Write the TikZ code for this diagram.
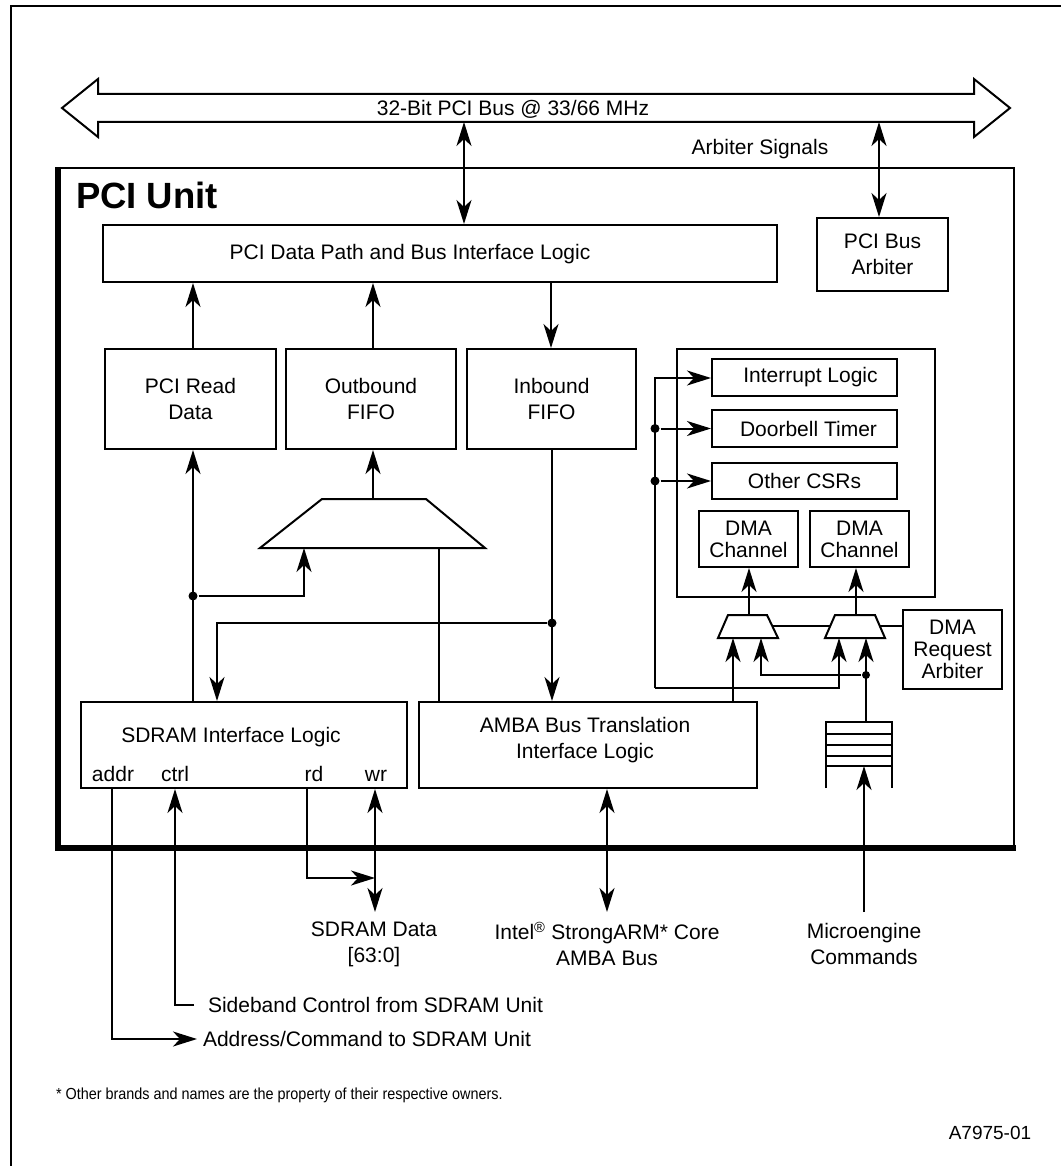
\documentclass[tikz,border=0pt]{standalone}
\usepackage{fontspec}
\setmainfont{Liberation Sans}
\newfontfamily\notefont[FakeStretch=0.9]{Liberation Sans}
\usetikzlibrary{arrows.meta}
\newcommand\lblfont{\fontsize{21}{26}\selectfont}
\newcommand\tightfont{\fontsize{21}{22}\selectfont}

\tikzset{ahead/.tip={Stealth[length=24pt,width=15pt,inset=7pt]}}

\begin{document}
\begin{tikzpicture}[x=1pt,y=-1pt,line width=2pt,line join=miter,
  box/.style={draw,line width=2pt,inner sep=0pt,align=center,font=\lblfont},
  tbox/.style={box,font=\tightfont},
  lbl/.style={inner sep=0pt,align=center,font=\lblfont},
  dot/.style={circle,fill,inner sep=0pt,minimum size=9pt},
  to/.style={-ahead},
  both/.style={ahead-ahead}]

\useasboundingbox (0,0) rectangle (1061,1166);

% page frame
\draw[line width=2.5pt] (11,1166) -- (11,6) -- (1061,6);

% PCI bus (wide double arrow)
\draw (62,108) -- (98,79) -- (98,94) -- (974,94) -- (974,79) -- (1010,108)
      -- (974,137) -- (974,122) -- (98,122) -- (98,137) -- cycle;
\node[lbl] (bustext) at (513,109) {32-Bit PCI Bus @ 33/66 MHz};
\coordinate (busdata) at (464,122);
\coordinate (busarb) at (879,122);
\node[lbl] (arbsig) at (760,149) {Arbiter Signals};

% PCI unit enclosure with heavy left/bottom edge
\node[draw,line width=2pt,minimum width=955pt,minimum height=679pt,inner sep=0pt]
  (unit) at (536.5,507.5) {};
\draw[line width=6pt] (unit.north west) -- (unit.south west) -- ([xshift=1pt]unit.south east);
\node[inner sep=0pt,anchor=west,font=\fontsize{36.5}{40}\selectfont\bfseries]
  (unitname) at (75,195) {PCI Unit};

% upper blocks
\node[box,minimum width=674pt,minimum height=57pt] (pdp) at (440,253.5) {};
\node[lbl] (pdptext) at (410,254) {PCI Data Path and Bus Interface Logic};
\node[box,minimum width=131pt,minimum height=73pt] (arb) at (882.5,254.5) {PCI Bus\\Arbiter};

\node[box,minimum width=171pt,minimum height=100pt] (prd) at (190.5,399) {PCI Read\\Data};
\node[box,minimum width=170pt,minimum height=100pt] (obf) at (371,399) {Outbound\\FIFO};
\node[box,minimum width=169pt,minimum height=100pt] (ibf) at (551.5,399) {Inbound\\FIFO};

% CSR / DMA group
\node[box,minimum width=258pt,minimum height=248pt] (grp) at (806,473) {};
\node[box,minimum width=185pt,minimum height=37pt] (intr) at (804.5,377.5) {\hspace*{12pt}Interrupt Logic};
\node[box,minimum width=185pt,minimum height=37pt] (door) at (804.5,428.5) {\hspace*{8pt}Doorbell Timer};
\node[box,minimum width=185pt,minimum height=36pt] (csr) at (804.5,481) {Other CSRs};
\node[tbox,minimum width=99pt,minimum height=56pt] (dma1) at (748.5,539) {DMA\\Channel};
\node[tbox,minimum width=99pt,minimum height=56pt] (dma2) at (859.5,539) {DMA\\Channel};
\node[tbox,minimum width=99pt,minimum height=79pt] (dmaarb) at (952.5,649.5) {DMA\\Request\\Arbiter};

% lower blocks
\node[box,minimum width=326pt,minimum height=86pt] (sdr) at (244,745) {};
\node[lbl] (sdrtext) at (231,737) {SDRAM Interface Logic};
\node[lbl,anchor=base] (paddr) at (113,781) {addr};
\node[lbl,anchor=base] (pctrl) at (175,781) {ctrl};
\node[lbl,anchor=base] (prdp) at (314,781) {rd};
\node[lbl,anchor=base] (pwr) at (376,781) {wr};
\node[box,minimum width=338pt,minimum height=86pt] (amba) at (588,745) {};
\node[lbl] (ambatext) at (585,740.5) {AMBA Bus Translation\\Interface Logic};

% multiplexers
\draw (322,499) -- (426,499) -- (485,548) -- (260,548) -- cycle;
\coordinate (bmuxout) at (373,499);
\coordinate (bmuxinA) at (304,548);
\coordinate (bmuxinB) at (439,548);
\draw (728,615) -- (767,615) -- (778,638) -- (718,638) -- cycle;
\draw (835,615) -- (875,615) -- (885,638) -- (825,638) -- cycle;
\coordinate (m1out) at (749,615);
\coordinate (m2out) at (856,615);
\coordinate (m1inA) at (733,638);
\coordinate (m1inB) at (761,638);
\coordinate (m2inA) at (839,638);
\coordinate (m2inB) at (866,638);
\coordinate (m1sel) at (772,626);
\coordinate (m2selL) at (830,626);
\coordinate (m2selR) at (880,626);

% command queue
\draw (826,788) -- (826,722) -- (892,722) -- (892,788);
\draw (826,734) -- (892,734) (826,745) -- (892,745) (826,756) -- (892,756) (826,766) -- (892,766);
\coordinate (qtop) at (866,722);
\coordinate (qin) at (864,766);

% bus interface connections
\draw[both] (busdata) -- (pdp.north -| busdata);
\draw[both] (busarb) -- (arb.north -| busarb);
\draw[to] (prd.north -| 193,0) -- (pdp.south -| 193,0);
\draw[to] (obf.north -| bmuxout) -- (pdp.south -| bmuxout);
\draw[to] (pdp.south -| 551,0) -- (ibf.north -| 551,0);

% datapath between FIFOs and SDRAM / AMBA
\draw[to] (sdr.north -| 193,0) -- (prd.south -| 193,0);
\node[dot] (d1) at (193,596) {};
\draw[to] (d1) -| (bmuxinA);
\draw[to] (bmuxout) -- (obf.south -| bmuxout);
\draw (amba.north -| bmuxinB) -- (bmuxinB);
\draw[to] (ibf.south -| 552,0) -- (amba.north -| 552,0);
\node[dot] (d2) at (552,623) {};
\draw[to] (d2) -| (sdr.north -| 217,0);

% CSR fan-out
\coordinate (csrtop) at (655,378);
\draw[to] (655,688) -- (csrtop) -- (intr.west |- csrtop);
\node[dot] (d3) at (655,428.5) {};
\node[dot] (d4) at (655,481) {};
\draw[to] (d3) -- (door.west);
\draw[to] (d4) -- (csr.west);
\draw[to] (655,688) -| (m2inA);

% DMA request path
\draw[to] (m1out) -- (dma1.south -| m1out);
\draw[to] (m2out) -- (dma2.south -| m2out);
\draw[to] (amba.north -| m1inA) -- (m1inA);
\draw[to] (qtop) -- (m2inB);
\node[dot,minimum size=8pt] (d5) at (866,675) {};
\draw[to] (d5) -| (m1inB);
\draw (m1sel) -- (m2selL);
\draw (m2selR) -- (dmaarb.west |- m2selR);

% external signals
\coordinate (addrend) at (197,1039);
\draw[to] (sdr.south -| 112,0) |- (addrend);
\node[lbl,anchor=west] (addrtext) at (202,1039) {Address/Command to SDRAM Unit};
\coordinate (ctrlend) at (194,1005);
\draw[to] (ctrlend) -| (sdr.south -| 175,0);
\node[lbl,anchor=west] (ctrltext) at (207,1005) {Sideband Control from SDRAM Unit};
\coordinate (wrend) at (375,912);
\draw[both] (sdr.south -| wrend) -- (wrend);
\draw[to] (sdr.south -| 307,0) |- (375,878);
\node[lbl] (sdata) at (374,944) {SDRAM Data\\{}[63:0]};
\coordinate (ambaend) at (607,912);
\draw[both] (amba.south -| ambaend) -- (ambaend);
\node[lbl] (arm) at (607,944) {Intel\textsuperscript{\textregistered} StrongARM* Core\\AMBA Bus};
\coordinate (cmdend) at (864,912);
\draw[to] (cmdend) -- (qin);
\node[lbl] (cmd) at (864,944) {Microengine\\Commands};

% notes
\node[inner sep=0pt,anchor=west,font=\notefont\fontsize{16}{19}\selectfont] (note) at (55,1095)
  {* Other brands and names are the property of their respective owners.};
\node[inner sep=0pt,font=\fontsize{19}{22}\selectfont] (figid) at (990,1133) {A7975-01};
\end{tikzpicture}
\end{document}
